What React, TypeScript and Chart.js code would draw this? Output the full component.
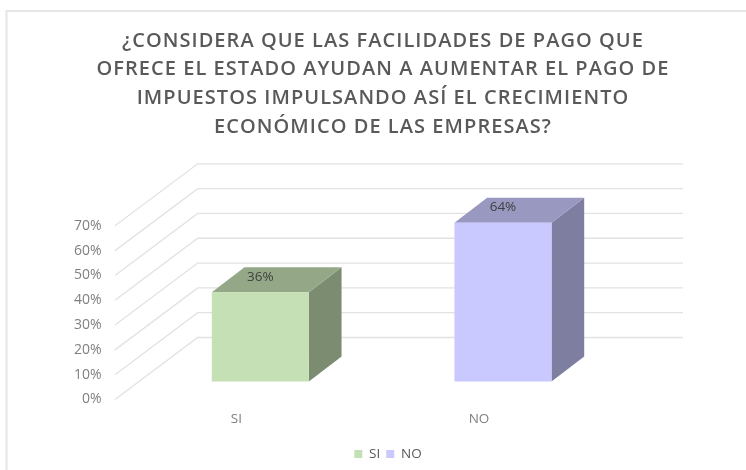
import React, { useEffect, useRef } from "react";
import { Chart, registerables } from "chart.js";

Chart.register(...registerables);

const categories = ["SI", "NO"];
const values = [36, 64];
const valueLabels = ["36%", "64%"];
const titleLines = [
  "¿CONSIDERA QUE LAS FACILIDADES DE PAGO QUE",
  "OFRECE EL ESTADO AYUDAN A AUMENTAR EL PAGO DE",
  "IMPUESTOS IMPULSANDO ASÍ EL CRECIMIENTO",
  "ECONÓMICO DE LAS EMPRESAS?",
];
const frontColors = ["#C5E0B4", "#C9C9FF"];
const topColors = ["#94A888", "#9898C0"];
const sideColors = ["#7B8C71", "#7E7EA0"];

const FONT = '"Open Sans", sans-serif';
const WALL_DX = 82.7;
const WALL_DY = -62;
const BAR_SHIFT_X = 24;
const BAR_SHIFT_Y = -18;
const BAR_DEPTH_X = 32.7;
const BAR_DEPTH_Y = -25;

const poly = (ctx: CanvasRenderingContext2D, pts: number[][], fill: string) => {
  ctx.beginPath();
  pts.forEach(([x, y], i) => (i ? ctx.lineTo(x, y) : ctx.moveTo(x, y)));
  ctx.closePath();
  ctx.fillStyle = fill;
  ctx.fill();
};

const scene3d = {
  id: "scene3d",
  afterLayout(chart: any) {
    const title = chart.titleBlock;
    if (title && !title.__wrapped) {
      title.__wrapped = true;
      const draw = title.draw;
      title.draw = function () {
        chart.ctx.letterSpacing = "1.05px";
        draw.call(this);
        chart.ctx.letterSpacing = "0px";
      };
    }
    const legend = chart.legend;
    if (legend && !legend.__wrapped) {
      legend.__wrapped = true;
      const draw = legend.draw;
      legend.draw = function () {
        chart.ctx.save();
        chart.ctx.translate(5, 0.8);
        draw.call(this);
        chart.ctx.restore();
      };
    }
  },
  beforeDraw(chart: any) {
    const { ctx } = chart;
    ctx.save();
    ctx.strokeStyle = "#E6E6E6";
    ctx.lineWidth = 2;
    ctx.beginPath();
    ctx.moveTo(6.5, 470);
    ctx.lineTo(6.5, 11);
    ctx.lineTo(746, 11);
    ctx.stroke();
    ctx.restore();
  },
  beforeDatasetsDraw(chart: any) {
    const { ctx, chartArea } = chart;
    const y = chart.scales.y;
    ctx.save();
    ctx.strokeStyle = "#E2E2E2";
    ctx.lineWidth = 1.3;
    y.ticks.forEach((t: any) => {
      const py = y.getPixelForValue(t.value);
      ctx.beginPath();
      ctx.moveTo(chartArea.left, py);
      ctx.lineTo(chartArea.left + WALL_DX, py + WALL_DY);
      ctx.lineTo(chartArea.right + WALL_DX, py + WALL_DY);
      ctx.stroke();
    });
    ctx.restore();
  },
  beforeDatasetDraw(chart: any, args: any) {
    const { ctx } = chart;
    ctx.save();
    ctx.translate(BAR_SHIFT_X, BAR_SHIFT_Y);
    args.meta.data.forEach((bar: any, i: number) => {
      const l = bar.x - bar.width / 2;
      const r = bar.x + bar.width / 2;
      const t = bar.y;
      const b = bar.base;
      poly(ctx, [[r, t], [r + BAR_DEPTH_X, t + BAR_DEPTH_Y], [r + BAR_DEPTH_X, b + BAR_DEPTH_Y], [r, b]], sideColors[i]);
      poly(ctx, [[l, t], [l + BAR_DEPTH_X, t + BAR_DEPTH_Y], [r + BAR_DEPTH_X, t + BAR_DEPTH_Y], [r, t]], topColors[i]);
    });
  },
  afterDatasetDraw(chart: any, args: any) {
    const { ctx } = chart;
    ctx.font = `13.5px ${FONT}`;
    ctx.fillStyle = "#404040";
    ctx.textAlign = "center";
    ctx.textBaseline = "middle";
    args.meta.data.forEach((bar: any, i: number) => {
      ctx.fillText(valueLabels[i], bar.x, bar.y - 15.5);
    });
    ctx.restore();
  },
};

export default function App() {
  const ref = useRef<HTMLCanvasElement>(null);
  useEffect(() => {
    const chart = new Chart(ref.current!, {
      type: "bar",
      data: {
        labels: categories,
        datasets: [
          {
            data: values,
            backgroundColor: frontColors,
            barPercentage: 0.4,
            categoryPercentage: 1,
            clip: false,
          } as any,
        ],
      },
      options: {
        responsive: false,
        animation: false,
        layout: { padding: { left: 20, right: 0, top: 10, bottom: 0 } },
        plugins: {
          tooltip: { enabled: false },
          title: {
            display: true,
            text: titleLines,
            color: "#595959",
            font: { family: FONT, size: 20, weight: 600, lineHeight: 1.44 },
            padding: { top: 16.4, bottom: 84.2 },
          },
          legend: {
            display: true,
            position: "bottom",
            labels: {
              boxWidth: 8,
              boxHeight: 8,
              padding: 6,
              color: "#595959",
              font: { family: FONT, size: 13.5 },
              generateLabels: (c: any) =>
                c.data.labels.map((text: string, i: number) => ({
                  text,
                  fillStyle: frontColors[i],
                  strokeStyle: frontColors[i],
                  lineWidth: 0,
                  fontColor: "#595959",
                  index: i,
                })),
            },
          },
        },
        scales: {
          x: {
            grid: { display: false },
            border: { display: false },
            ticks: { color: "#7F7F7F", font: { family: FONT, size: 13.5 }, padding: 4, maxRotation: 0 },
            afterFit: (s: any) => {
              s.height = 41;
            },
          },
          y: {
            min: 0,
            max: 70,
            grid: { display: false },
            border: { display: false },
            ticks: {
              stepSize: 10,
              color: "#7F7F7F",
              font: { family: FONT, size: 14 },
              padding: 5.5,
              callback: (v: any) => `${v}%`,
            },
            afterFit: (s: any) => {
              s.width = 95;
            },
          },
          spacer: {
            axis: "y",
            position: "right",
            min: 0,
            max: 70,
            grid: { display: false },
            border: { display: false },
            ticks: { display: false },
            afterFit: (s: any) => {
              s.width = 145.7;
            },
          },
        },
      } as any,
      plugins: [scene3d],
    });
    return () => chart.destroy();
  }, []);
  return (
    <div style={{ position: "absolute", left: 0, top: 0, width: 746, height: 470 }}>
      <canvas ref={ref} width={746} height={470} style={{ display: "block" }} />
    </div>
  );
}
